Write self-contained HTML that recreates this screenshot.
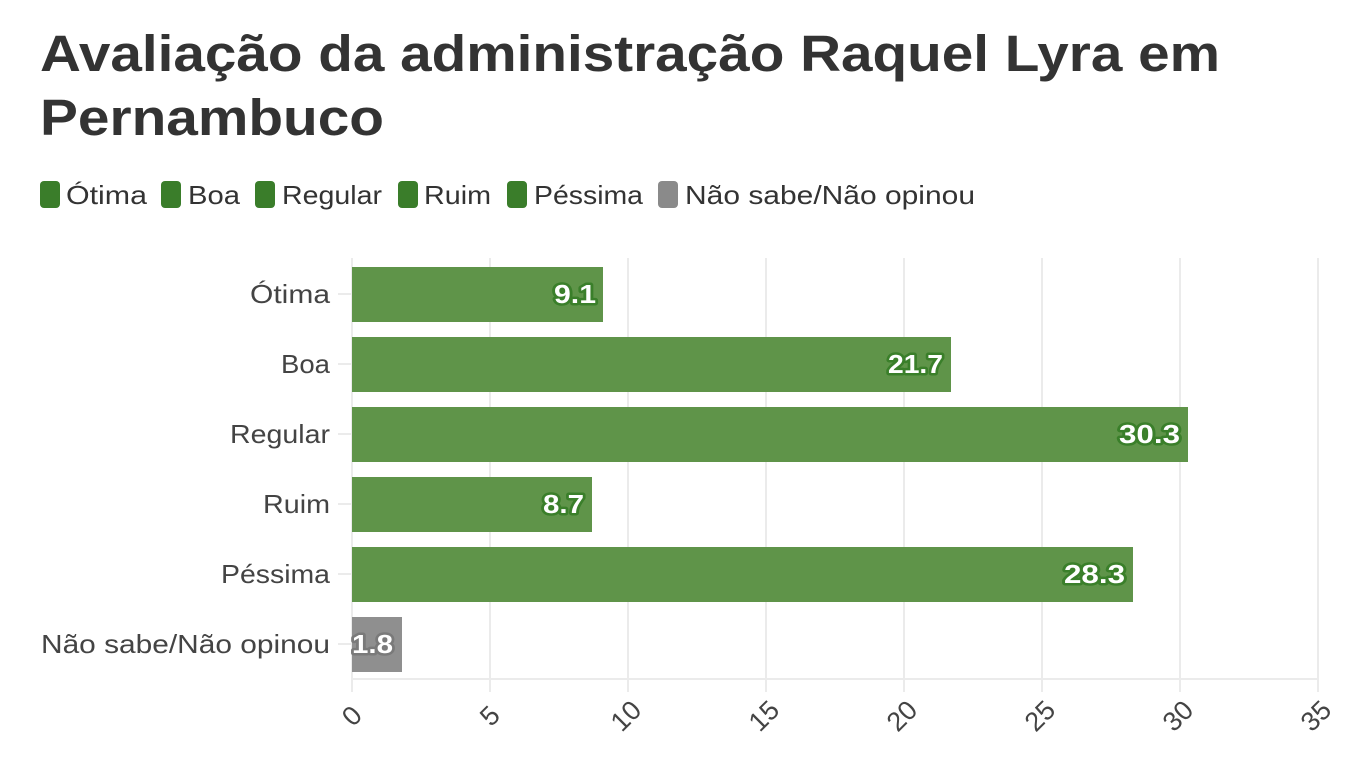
<!DOCTYPE html>
<html><head><meta charset="utf-8"><style>
html,body{margin:0;padding:0;background:#fff;}
svg{display:block;font-family:"Liberation Sans",sans-serif;}
</style></head><body>
<svg width="1370" height="758" viewBox="0 0 1370 758">
<text x="40" y="71" font-size="51" font-weight="bold" fill="#333" textLength="1180" lengthAdjust="spacingAndGlyphs">Avaliação da administração Raquel Lyra em</text>
<text x="40" y="135" font-size="51" font-weight="bold" fill="#333" textLength="344" lengthAdjust="spacingAndGlyphs">Pernambuco</text>
<g font-size="26" fill="#333" lengthAdjust="spacingAndGlyphs">
<rect x="40" y="181" width="20" height="27" rx="4" fill="#3a7d2a"/><text x="66" y="204" textLength="81" lengthAdjust="spacingAndGlyphs">Ótima</text>
<rect x="161" y="181" width="20" height="27" rx="4" fill="#3a7d2a"/><text x="188" y="204" textLength="52" lengthAdjust="spacingAndGlyphs">Boa</text>
<rect x="255" y="181" width="20" height="27" rx="4" fill="#3a7d2a"/><text x="282" y="204" textLength="100" lengthAdjust="spacingAndGlyphs">Regular</text>
<rect x="398" y="181" width="20" height="27" rx="4" fill="#3a7d2a"/><text x="424" y="204" textLength="67" lengthAdjust="spacingAndGlyphs">Ruim</text>
<rect x="507" y="181" width="20" height="27" rx="4" fill="#3a7d2a"/><text x="534" y="204" textLength="109" lengthAdjust="spacingAndGlyphs">Péssima</text>
<rect x="658" y="181" width="20" height="27" rx="4" fill="#8a8a8a"/><text x="685" y="204" textLength="290" lengthAdjust="spacingAndGlyphs">Não sabe/Não opinou</text>
</g>
<g stroke="#ebebeb" stroke-width="2">
<line x1="352" y1="258" x2="352" y2="692"/><line x1="490" y1="258" x2="490" y2="692"/><line x1="628" y1="258" x2="628" y2="692"/><line x1="766" y1="258" x2="766" y2="692"/><line x1="904" y1="258" x2="904" y2="692"/><line x1="1042" y1="258" x2="1042" y2="692"/><line x1="1180" y1="258" x2="1180" y2="692"/><line x1="1318" y1="258" x2="1318" y2="692"/>
<line x1="352" y1="679" x2="1318" y2="679"/>
<line x1="338" y1="294" x2="352" y2="294"/><line x1="338" y1="364" x2="352" y2="364"/><line x1="338" y1="434" x2="352" y2="434"/><line x1="338" y1="504" x2="352" y2="504"/><line x1="338" y1="574" x2="352" y2="574"/><line x1="338" y1="644" x2="352" y2="644"/>
</g>
<g fill="#5f9449">
<rect x="352" y="267" width="251" height="55"/>
<rect x="352" y="337" width="599" height="55"/>
<rect x="352" y="407" width="836" height="55"/>
<rect x="352" y="477" width="240" height="55"/>
<rect x="352" y="547" width="781" height="55"/>
</g>
<rect x="352" y="617" width="50" height="55" fill="#8f8f8f"/>
<g font-size="26" fill="#444">
<text x="250" y="303" textLength="80" lengthAdjust="spacingAndGlyphs">Ótima</text>
<text x="281" y="373" textLength="49" lengthAdjust="spacingAndGlyphs">Boa</text>
<text x="230" y="443" textLength="100" lengthAdjust="spacingAndGlyphs">Regular</text>
<text x="263" y="513" textLength="67" lengthAdjust="spacingAndGlyphs">Ruim</text>
<text x="221" y="583" textLength="109" lengthAdjust="spacingAndGlyphs">Péssima</text>
<text x="41" y="653" textLength="289" lengthAdjust="spacingAndGlyphs">Não sabe/Não opinou</text>
</g>
<g font-size="26" font-weight="bold" fill="#fff" stroke-width="5" paint-order="stroke" stroke-linejoin="round">
<text x="554" y="303" stroke="#3a7f2a" textLength="42" lengthAdjust="spacingAndGlyphs">9.1</text>
<text x="888" y="373" stroke="#3a7f2a" textLength="55" lengthAdjust="spacingAndGlyphs">21.7</text>
<text x="1119" y="443" stroke="#3a7f2a" textLength="61" lengthAdjust="spacingAndGlyphs">30.3</text>
<text x="543" y="513" stroke="#3a7f2a" textLength="41" lengthAdjust="spacingAndGlyphs">8.7</text>
<text x="1064" y="583" stroke="#3a7f2a" textLength="61" lengthAdjust="spacingAndGlyphs">28.3</text>
<text x="352" y="653" stroke="#7a7a7a" textLength="41" lengthAdjust="spacingAndGlyphs">1.8</text>
</g>
<g font-size="27" fill="#444" text-anchor="middle">
<text transform="translate(352,716) rotate(-45)" dy="9">0</text>
<text transform="translate(490,716) rotate(-45)" dy="9">5</text>
<text transform="translate(626,716) rotate(-45)" dy="9">10</text>
<text transform="translate(764,716) rotate(-45)" dy="9">15</text>
<text transform="translate(902,716) rotate(-45)" dy="9">20</text>
<text transform="translate(1040,716) rotate(-45)" dy="9">25</text>
<text transform="translate(1178,716) rotate(-45)" dy="9">30</text>
<text transform="translate(1316,716) rotate(-45)" dy="9">35</text>
</g>
</svg>
</body></html>
